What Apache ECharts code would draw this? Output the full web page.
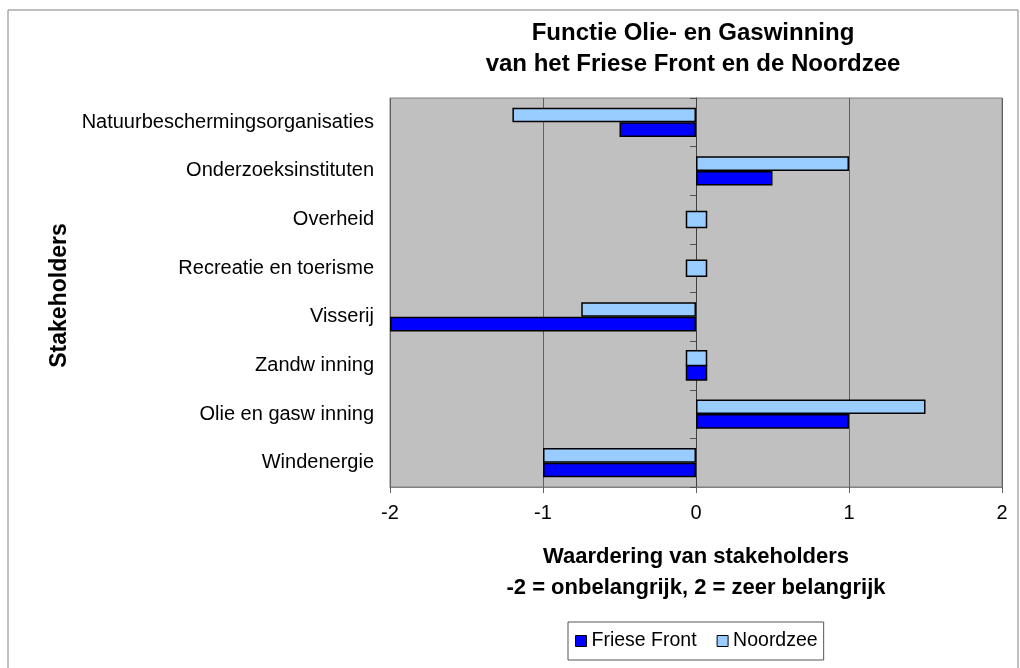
<!DOCTYPE html>
<html>
<head>
<meta charset="utf-8">
<script src="https://cdn.jsdelivr.net/npm/echarts@6/dist/echarts.min.js"></script>
<style>
  html, body { margin: 0; padding: 0; background: #fff; }
  #chart { width: 1020px; height: 668px; }
</style>
</head>
<body>
<div id="chart"></div>
<script>
// stakeholders, top to bottom as in the picture
var categories = ['Natuurbeschermingsorganisaties', 'Onderzoeksinstituten', 'Overheid',
    'Recreatie en toerisme', 'Visserij', 'Zandw inning', 'Olie en gasw inning', 'Windenergie'];
// null = not scored, 0 = scored as neutral (drawn as small box)
var frieseFront = [-0.5, 0.5, null, null, -2, 0, 1, -1];
var noordzee = [-1.2, 1, 0, 0, -0.75, 0, 1.5, -1];
var xTicks = [-2, -1, 0, 1, 2];

var colFF = '#0000FF';
var colNZ = '#99CCFF';

// zero scores get their own little box round the 0 line
// slot: -1 upper half of the group, 1 lower half, 0 centred
function zeroMarks(own, other, slot) {
    var out = [];
    own.forEach(function (v, i) {
        if (v === 0) out.push([v, i, other[i] === null ? 0 : slot]);
    });
    return out;
}
function barData(arr) {
    return arr.map(function (v) { return (v === 0 || v === null) ? '-' : v; });
}
function renderZero(params, api) {
    var c = api.coord([api.value(0), api.value(1)]);
    var band = api.size([0, 1])[1];
    var bw = band * 0.3;
    var slot = api.value(2);
    var y0, h;
    if (slot === 0) { h = bw * 1.1; y0 = c[1] - h / 2; }
    else if (slot < 0) { h = bw; y0 = c[1] - bw; }
    else { h = bw; y0 = c[1]; }
    return {
        type: 'rect',
        shape: { x: c[0] - 9.5, y: y0, width: 20, height: h },
        style: api.style()
    };
}

var myChart = echarts.init(document.getElementById('chart'));
var option = {
    animation: false,
    backgroundColor: '#fff',
    graphic: [{
        type: 'rect',
        shape: { x: 8, y: 10, width: 1010, height: 700 },
        style: { fill: 'none', stroke: '#808080', lineWidth: 1 },
        silent: true
    }],
    title: {
        text: 'Functie Olie- en Gaswinning\nvan het Friese Front en de Noordzee',
        left: 688,
        top: 13,
        textAlign: 'center',
        textStyle: {
            fontFamily: 'Liberation Sans',
            fontSize: 24,
            fontWeight: 'bold',
            color: '#000',
            lineHeight: 31
        }
    },
    legend: {
        data: ['Friese Front', 'Noordzee'],
        left: 568,
        top: 622,
        orient: 'horizontal',
        icon: 'rect',
        itemWidth: 11,
        itemHeight: 11,
        itemGap: 20,
        padding: [9, 6, 9, 7],
        borderColor: '#555',
        borderWidth: 1,
        backgroundColor: '#fff',
        itemStyle: { borderColor: '#000', borderWidth: 1 },
        textStyle: { fontFamily: 'Liberation Sans', fontSize: 19.5, color: '#000' }
    },
    grid: {
        left: 390,
        right: 18,
        top: 98,
        bottom: 181,
        show: true,
        backgroundColor: '#C0C0C0',
        borderColor: '#808080',
        borderWidth: 1
    },
    xAxis: {
        type: 'value',
        min: xTicks[0],
        max: xTicks[xTicks.length - 1],
        interval: 1,
        name: 'Waardering van stakeholders\n-2 = onbelangrijk, 2 = zeer belangrijk',
        nameLocation: 'middle',
        nameGap: 54,
        nameTextStyle: {
            fontFamily: 'Liberation Sans',
            fontSize: 22,
            fontWeight: 'bold',
            color: '#000',
            lineHeight: 31
        },
        axisLine: { show: true, lineStyle: { color: '#808080', width: 1 } },
        axisTick: { show: true, length: 6, lineStyle: { color: '#606060' } },
        axisLabel: {
            fontFamily: 'Liberation Sans',
            fontSize: 20,
            color: '#000',
            margin: 16
        },
        splitLine: { show: true, lineStyle: { color: '#606060', width: 1 } }
    },
    yAxis: [{
        type: 'category',
        data: categories,
        inverse: true,
        position: 'left',
        name: 'Stakeholders',
        nameLocation: 'middle',
        nameRotate: 90,
        nameGap: 317,
        nameTextStyle: {
            fontFamily: 'Liberation Sans',
            fontSize: 23,
            fontWeight: 'bold',
            color: '#000',
            padding: [0, 6, 0, 0]
        },
        axisLine: { show: false, onZero: false },
        axisTick: { show: false },
        axisLabel: {
            fontFamily: 'Liberation Sans',
            fontSize: 20,
            color: '#000',
            margin: 16
        }
    }, {
        // the 0 line with its category ticks
        type: 'category',
        data: categories,
        inverse: true,
        position: 'left',
        axisLine: { show: true, onZero: true, onZeroAxisIndex: 0, lineStyle: { color: '#404040', width: 1 } },
        axisTick: { show: true, length: 6, lineStyle: { color: '#505050' } },
        axisLabel: { show: false }
    }],
    series: [{
        name: 'Noordzee',
        type: 'bar',
        data: barData(noordzee),
        barGap: '0%',
        barCategoryGap: '40%',
        itemStyle: { color: colNZ, borderColor: '#000', borderWidth: 1.5 }
    }, {
        name: 'Friese Front',
        type: 'bar',
        data: barData(frieseFront),
        barGap: '0%',
        barCategoryGap: '40%',
        itemStyle: { color: colFF, borderColor: '#000', borderWidth: 1.5 }
    }, {
        name: 'Friese Front',
        type: 'custom',
        renderItem: renderZero,
        encode: { x: 0, y: 1 },
        data: zeroMarks(frieseFront, noordzee, 1),
        itemStyle: { color: colFF, borderColor: '#000', borderWidth: 1.5 },
        z: 3
    }, {
        name: 'Noordzee',
        type: 'custom',
        renderItem: renderZero,
        encode: { x: 0, y: 1 },
        data: zeroMarks(noordzee, frieseFront, -1),
        itemStyle: { color: colNZ, borderColor: '#000', borderWidth: 1.5 },
        z: 3
    }]
};
myChart.setOption(option);
</script>
</body>
</html>
